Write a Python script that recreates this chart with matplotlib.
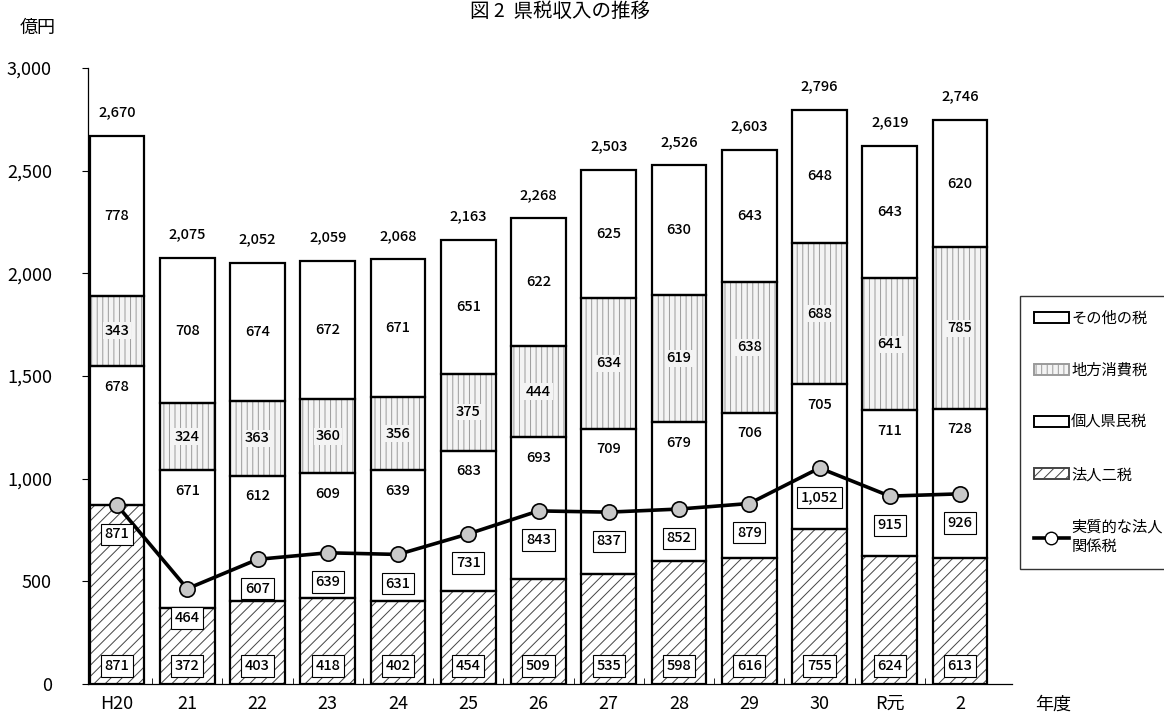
import matplotlib
matplotlib.use("Agg")
import matplotlib.pyplot as plt
from matplotlib.patches import Patch
from matplotlib.lines import Line2D
import numpy as np

plt.rcParams["font.family"] = ["Noto Sans CJK JP", "DejaVu Sans"]
plt.rcParams["hatch.linewidth"] = 0.7

years = ["H20", "21", "22", "23", "24", "25", "26", "27", "28", "29", "30", "R元", "2"]
houjin = [871, 372, 403, 418, 402, 454, 509, 535, 598, 616, 755, 624, 613]
kojin = [678, 671, 612, 609, 639, 683, 693, 709, 679, 706, 705, 711, 728]
chiho = [343, 324, 363, 360, 356, 375, 444, 634, 619, 638, 688, 641, 785]
sonota = [778, 708, 674, 672, 671, 651, 622, 625, 630, 643, 648, 643, 620]
jisshitsu = [871, 464, 607, 639, 631, 731, 843, 837, 852, 879, 1052, 915, 926]

W, H = 1164, 717
fig = plt.figure(figsize=(W / 100, H / 100), dpi=100)
ax = fig.add_axes([88 / W, 1 - 684 / H, (1012 - 88) / W, (684 - 68) / H])

x = np.arange(len(years))
bw = 0.78
b1 = np.array(houjin)
b2 = b1 + np.array(kojin)
b3 = b2 + np.array(chiho)
tot = b3 + np.array(sonota)

# 塗り（ハッチ）→ 枠線の二段で描く
ax.bar(x, houjin, bw, color="white", edgecolor="#444444", hatch="///", lw=0, zorder=2)
ax.bar(x, kojin, bw, bottom=b1, color="white", lw=0, zorder=2)
ax.bar(x, chiho, bw, bottom=b2, color="#f4f4f4", edgecolor="#9a9a9a", hatch="|||", lw=0, zorder=2)
ax.bar(x, sonota, bw, bottom=b3, color="white", lw=0, zorder=2)
for vals, bot in [(houjin, 0), (kojin, b1), (chiho, b2), (sonota, b3)]:
    ax.bar(x, vals, bw, bottom=bot, fill=False, edgecolor="black", lw=1.6, zorder=3)

ax.plot(x, jisshitsu, color="black", lw=2.6, marker="o", ms=11,
        mfc="#c8c8c8", mec="black", mew=1.2, zorder=6)

box = dict(boxstyle="square,pad=0.25", fc="white", ec="black", lw=0.8)
fs = 10.5
fw = "medium"
for i in range(len(years)):
    ax.annotate(f"{houjin[i]}", (x[i], 0), xytext=(0, 13), textcoords="offset points",
                ha="center", va="center", fontsize=fs, fontweight=fw, bbox=box, zorder=7)
    ax.annotate(f"{jisshitsu[i]:,}", (x[i], jisshitsu[i]), xytext=(0, -21),
                textcoords="offset points", ha="center", va="center",
                fontsize=fs, fontweight=fw, bbox=box, zorder=7)
    ax.annotate(f"{kojin[i]}", (x[i], b2[i]), xytext=(0, -15), textcoords="offset points",
                ha="center", va="center", fontsize=fs, fontweight=fw, zorder=5)
    ax.text(x[i], b2[i] + chiho[i] / 2, f"{chiho[i]}", ha="center", va="center",
            fontsize=fs, fontweight=fw, zorder=5,
            bbox=dict(boxstyle="square,pad=0.1", fc="#f4f4f4", ec="none"))
    ax.text(x[i], b3[i] + sonota[i] / 2, f"{sonota[i]}", ha="center", va="center",
            fontsize=fs, fontweight=fw, zorder=5)
    ax.annotate(f"{tot[i]:,}", (x[i], tot[i]), xytext=(0, 17), textcoords="offset points",
                ha="center", va="center", fontsize=fs, fontweight=fw, zorder=5)

ax.set_xlim(-0.413, 12.74)
ax.set_ylim(0, 3000)
ax.set_yticks(np.arange(0, 3001, 500))
ax.set_yticklabels([f"{v:,}" for v in range(0, 3001, 500)], fontsize=13)
ax.set_xticks(x)
ax.set_xticklabels(years, fontsize=13)
ax.set_xticks(x[:-1] + 0.5, minor=True)
ax.tick_params(axis="x", which="major", length=0, pad=8)
ax.tick_params(axis="x", which="minor", direction="in", length=4)
ax.tick_params(axis="y", length=4, pad=22, direction="out")
for s in ("top", "right"):
    ax.spines[s].set_visible(False)
ax.spines["left"].set_linewidth(0.9)
ax.spines["bottom"].set_linewidth(0.9)

handles = [
    Patch(fc="white", ec="black", lw=1.4),
    Patch(fc="#f4f4f4", ec="#9a9a9a", hatch="|||", lw=1.4),
    Patch(fc="white", ec="black", lw=1.4),
    Patch(fc="white", ec="#444444", hatch="///", lw=1.4),
    Line2D([0], [0], color="black", lw=2.6, marker="o", ms=9, mfc="white", mec="black"),
]
labels = ["その他の税", "地方消費税", "個人県民税", "法人二税", "実質的な法人\n関係税"]
leg = fig.legend(handles, labels, loc="upper left",
                 bbox_to_anchor=(1020 / W, 1 - 296 / H), fontsize=11,
                 frameon=True, fancybox=False, edgecolor="black",
                 labelspacing=2.3, handlelength=2.3, handletextpad=0.15,
                 borderpad=0.9, borderaxespad=0)
leg.get_frame().set_linewidth(1.0)

fig.text(38 / W, 1 - 28 / H, "億円", fontsize=13, ha="center", va="center")
fig.text(1035 / W, 1 - 705 / H, "年度", fontsize=13, ha="left", va="center")
fig.text(560 / W, 1 - 11 / H, "図 2  県税収入の推移", fontsize=14, ha="center", va="center")

fig.savefig("out.png", dpi=100)
